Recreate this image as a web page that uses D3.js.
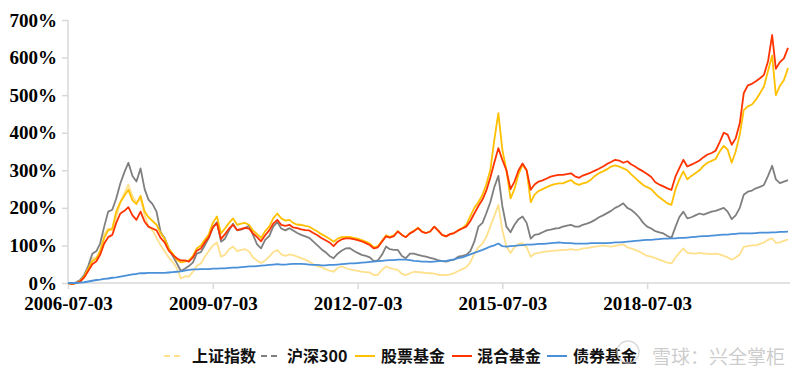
<!DOCTYPE html>
<html><head><meta charset="utf-8">
<script src="https://cdn.jsdelivr.net/npm/d3@7"></script>
<style>
html,body{margin:0;padding:0;background:#fff;}
svg{display:block;}
</style></head>
<body>
<svg id="chart" width="800" height="373"></svg>
<script>
// ---- data (monthly samples, cumulative return in %) ----
const firstMonth = "2006-07-03";
const monthCount = 180;
const xTickLabels = ["2006-07-03","2009-07-03","2012-07-03","2015-07-03","2018-07-03"];
const yTickValues = [0,100,200,300,400,500,600,700];
const seriesNames = ["上证指数","沪深300","股票基金","混合基金","债券基金"];

const sse = [
0,-3,0,5,15,40,65,68,85,130,145,140,
175,215,240,262,230,215,225,180,150,140,120,100,
85,68,55,40,12,18,17,30,45,52,70,85,
100,108,70,75,90,97,85,88,90,84,68,60,
53,60,70,82,88,76,72,76,74,70,66,62,
57,50,44,42,37,33,30,40,44,40,36,34,
32,30,29,28,21,22,35,44,40,37,35,24,
21,26,30,29,28,27,26,25,22,21,21,23,
26,32,37,42,55,78,95,105,122,150,178,208,
141,97,80,95,104,106,95,70,78,80,82,84,
85,86,87,88,88,90,88,89,92,93,95,97,
98,100,98,97,99,101,103,95,92,88,84,78,
72,70,66,62,58,54,52,68,80,92,80,79,
78,80,78,78,77,78,76,72,68,62,68,76,
96,98,100,100,104,108,115,119,107,108,112,116];

const hs300 = [
0,-2,2,8,22,45,78,85,105,150,190,195,
225,265,295,320,285,270,305,250,222,210,190,135,
120,92,72,53,32,38,45,55,78,82,100,120,
148,162,110,118,140,158,140,142,146,152,128,103,
92,115,125,150,162,145,140,146,140,133,128,124,
120,110,100,90,82,72,66,78,86,92,93,86,
80,75,72,68,58,60,75,97,90,88,88,72,
66,78,78,75,72,70,67,64,61,58,57,60,
62,70,72,75,85,110,150,160,185,215,255,285,
205,150,135,155,170,177,160,118,128,130,135,140,
142,145,146,150,153,155,150,150,155,158,162,168,
175,180,186,192,200,205,212,200,195,186,175,160,
150,145,138,135,132,125,120,150,175,190,172,175,
180,185,182,186,190,192,196,200,190,170,180,200,
235,243,246,252,256,261,285,312,276,266,270,274];

const stockFund = [
0,-2,0,5,18,38,58,65,85,120,140,145,
190,215,232,248,220,210,232,190,175,165,155,133,
118,92,78,62,55,57,60,72,92,100,115,130,
160,177,132,145,160,172,155,158,160,155,140,130,
120,138,150,172,185,172,166,168,160,155,155,152,
150,143,137,130,124,118,110,118,122,123,123,120,
118,114,110,105,95,98,112,127,123,127,138,128,
122,133,139,147,137,133,137,150,140,128,124,130,
133,140,146,155,178,200,215,235,262,300,380,452,
355,300,225,250,290,315,300,215,235,245,250,255,
260,263,265,265,270,274,265,261,265,268,275,285,
292,297,303,310,313,310,305,300,290,280,270,261,
255,250,238,228,220,212,208,250,275,297,276,285,
292,300,312,320,325,330,350,365,355,320,350,395,
460,470,475,488,505,523,565,605,500,525,540,572];

const mixedFund = [
0,-2,0,4,15,32,50,58,75,105,122,128,
160,185,192,202,180,168,190,163,150,145,140,120,
108,86,75,66,60,60,57,68,86,92,108,122,
148,159,117,130,145,155,141,144,147,145,132,122,
111,127,140,158,168,155,152,155,148,146,143,141,
140,133,127,120,114,108,98,110,116,119,119,117,
114,111,106,101,92,95,110,124,121,125,137,128,
122,132,138,146,136,133,137,150,140,128,124,130,
133,140,145,150,165,185,205,222,245,280,320,359,
328,300,250,270,300,318,300,248,262,270,273,278,
283,286,288,288,290,292,284,280,286,290,294,299,
304,310,317,322,328,326,320,324,316,310,303,297,
290,282,268,262,257,252,248,284,305,328,310,315,
320,326,335,342,346,352,375,400,395,368,385,425,
505,526,530,537,545,554,590,660,570,588,598,626];

const bondFund = [
0,0,0,1,2,4,6,8,9,11,12,14,
15,17,19,21,23,24,26,26,27,27,27,27,
27,28,29,30,31,33,35,36,36,37,37,37,
38,38,39,39,40,41,41,42,43,44,44,45,
46,47,48,49,50,49,49,50,51,51,51,50,
49,48,48,47,47,48,48,49,50,51,52,52,
53,54,55,56,57,58,59,60,61,61,62,62,
62,61,59,58,57,57,56,57,58,58,59,61,
63,66,68,72,76,80,84,88,92,97,100,105,
98,97,98,99,100,101,102,102,103,104,104,105,
106,107,108,107,106,106,105,105,105,105,106,106,
106,106,106,107,108,108,109,110,111,112,113,114,
115,115,116,117,118,118,119,119,120,120,121,122,
123,124,125,125,126,127,128,129,129,130,131,132,
132,132,132,133,134,134,134,135,135,136,136,137];

// ---- styles ----
const colors = ["#FFE08C","#7F7F7F","#FFC000","#FF3300","#4A90D9"];
const dashes = ["6,4","6,4",null,null,null];

const parse = d3.timeParse("%Y-%m-%d");
const start = parse(firstMonth);
const dates = d3.range(monthCount).map(i => d3.timeMonth.offset(start, i));
const allSeries = [sse, hs300, stockFund, mixedFund, bondFund];

const svg = d3.select("#chart");
const x = d3.scaleTime().domain([dates[0], dates[dates.length-1]]).range([68, 788]);
const y = d3.scaleLinear().domain([0, 700]).range([283, 20]);

const axisColor = "#D9D9D9";
const labelFont = "'Liberation Serif','Times New Roman',serif";

// y axis
const yAxis = svg.append("g").attr("transform","translate(68,0)")
  .call(d3.axisLeft(y).tickValues(yTickValues).tickFormat(d => d + "%").tickSize(6).tickPadding(5));
yAxis.select(".domain").attr("stroke", axisColor).attr("stroke-width", 1.5).attr("d","M0,20V283");
yAxis.selectAll(".tick line").attr("stroke", axisColor).attr("stroke-width", 1.5);
yAxis.selectAll(".tick text").attr("font-family", labelFont).attr("font-weight","bold")
  .attr("font-size", 19).attr("fill","#000");

// x axis
const xAxis = svg.append("g").attr("transform","translate(0,283)")
  .call(d3.axisBottom(x).tickValues(xTickLabels.map(parse)).tickFormat(d3.timeFormat("%Y-%m-%d")).tickSize(6).tickPadding(8));
xAxis.select(".domain").attr("stroke", axisColor).attr("stroke-width", 1.5).attr("d","M68,0H790");
xAxis.selectAll(".tick line").attr("stroke", axisColor).attr("stroke-width", 1.5);
xAxis.selectAll(".tick text").attr("font-family", labelFont).attr("font-weight","bold")
  .attr("font-size", 19).attr("fill","#000");

// lines
const line = d3.line().x((d,i) => x(dates[i])).y(d => y(d));
allSeries.forEach((s, k) => {
  svg.append("path").datum(s)
    .attr("d", line)
    .attr("fill","none")
    .attr("stroke", colors[k])
    .attr("stroke-width", 1.8)
    .attr("stroke-linejoin","round");
});

// legend
const legendItems = [
  {lx:164, tx:192},
  {lx:261, tx:287},
  {lx:355, tx:381},
  {lx:452, tx:477},
  {lx:547, tx:573}
];
const lg = svg.append("g");
legendItems.forEach((it, k) => {
  lg.append("line").attr("x1", it.lx).attr("x2", it.lx + 20).attr("y1", 356).attr("y2", 356)
    .attr("stroke", colors[k]).attr("stroke-width", 2)
    .attr("stroke-dasharray", dashes[k]);
  lg.append("text").attr("x", it.tx).attr("y", 362)
    .attr("font-family","'Noto Sans CJK SC','Liberation Serif',serif").attr("font-weight","bold")
    .attr("font-size", 16).attr("fill","#111").text(seriesNames[k]);
});

// watermark
svg.append("text").attr("x", 652).attr("y", 364)
  .attr("font-family","'Noto Sans CJK SC',sans-serif").attr("font-size", 19)
  .attr("fill","#bbb").attr("fill-opacity",0.75).text("雪球：兴全掌柜");
svg.append("circle").attr("cx", 628).attr("cy", 352).attr("r", 11)
  .attr("fill","none").attr("stroke","#ccc").attr("stroke-width",1.5).attr("stroke-opacity",0.7);
</script>
</body></html>
